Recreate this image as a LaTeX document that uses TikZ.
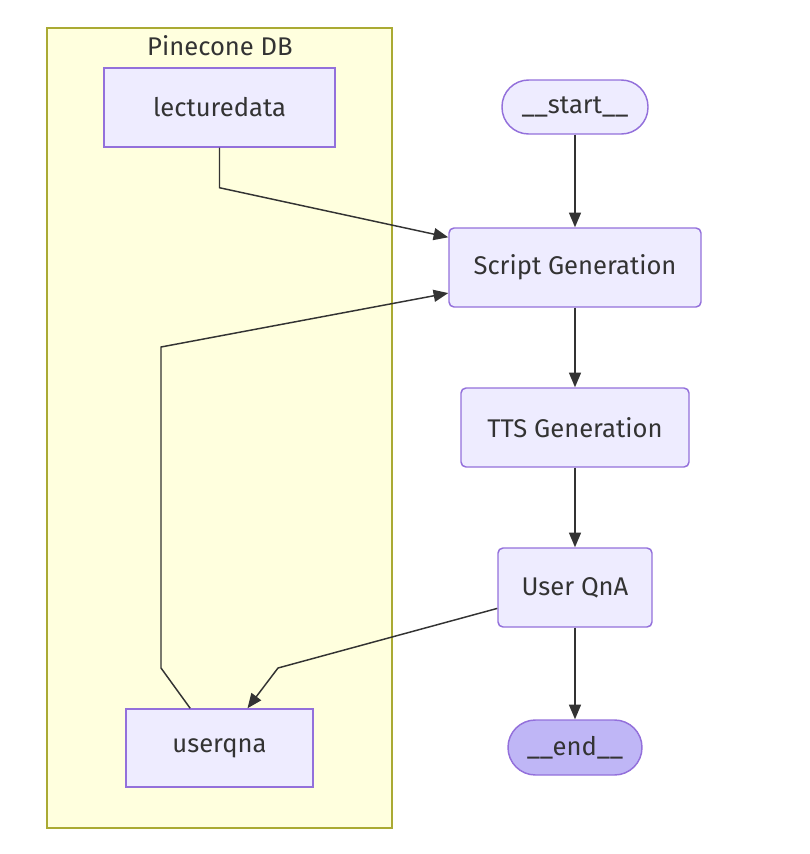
\documentclass[tikz,border=0pt]{standalone}
\usepackage{fontspec}
\setmainfont{Fira Sans}
\usepackage{tikz}
\usetikzlibrary{positioning,arrows.meta,calc}
\definecolor{nodefill}{RGB}{238,236,255}
\definecolor{nodeline}{RGB}{147,112,219}
\definecolor{endfill}{RGB}{191,182,246}
\definecolor{clusterfill}{RGB}{255,255,222}
\definecolor{clusterline}{RGB}{170,170,51}
\definecolor{edgeline}{RGB}{51,51,51}
\definecolor{labeltext}{RGB}{51,51,51}

\tikzset{
  box/.style={rectangle,draw=nodeline,fill=nodefill,line width=1.1pt,
              text=labeltext,inner sep=0pt,minimum height=59.25pt},
  roundbox/.style={box,rounded corners=3.75pt},
  pill/.style={box,rounded corners=20pt,minimum height=40.5pt},
  flow/.style={draw=edgeline,line width=1.1pt,
               -{Triangle[length=11pt,width=9pt]}},
  link/.style={draw=edgeline,line width=1.1pt}
}

\begin{document}
\begin{tikzpicture}[x=0.75pt,y=-0.75pt,font=\fontsize{19.2}{23}\selectfont]
\useasboundingbox (0,0) rectangle (810,854);

% subgraph
\draw[fill=clusterfill,draw=clusterline,line width=1.1pt] (47,28) rectangle (392,828);
\node[text=labeltext] (dbtitle) at (220,46) {Pinecone DB};

% nodes
\node[box,minimum width=173.25pt] (lecturedata) at (219.5,107.5) {lecturedata};
\node[box,minimum width=140.25pt,minimum height=58.5pt] (userqna) at (219.5,748) {userqna};
\node[pill,minimum width=109.5pt] (start) at (575,107) {\_\_start\_\_};
\node[roundbox,minimum width=189pt] (script) at (575,267.5) {Script Generation};
\node[roundbox,minimum width=171pt] (tts) at (575,427.5) {TTS Generation};
\node[roundbox,minimum width=115.5pt] (qna) at (575,587.5) {User QnA};
\node[pill,fill=endfill,minimum width=100.5pt,minimum height=41.25pt,
      rounded corners=20.6pt] (stop) at (575,747.5) {\_\_end\_\_};

% edges
\draw[flow] (start) -- (script);
\draw[flow] (script) -- (tts);
\draw[flow] (tts) -- (qna);
\draw[flow] (qna) -- (stop);

\draw[flow] (lecturedata.south) -- ++(0,40) -- ([yshift=-7.5pt]script.north west);
\draw[flow] ([xshift=-22pt]userqna.north) -- (161,668) -- (161,347)
  -- ([yshift=11pt]script.south west);
\draw[flow] ([yshift=14.5pt]qna.south west) -- (278,668)
  -- ([xshift=21pt]userqna.north);
\end{tikzpicture}
\end{document}
